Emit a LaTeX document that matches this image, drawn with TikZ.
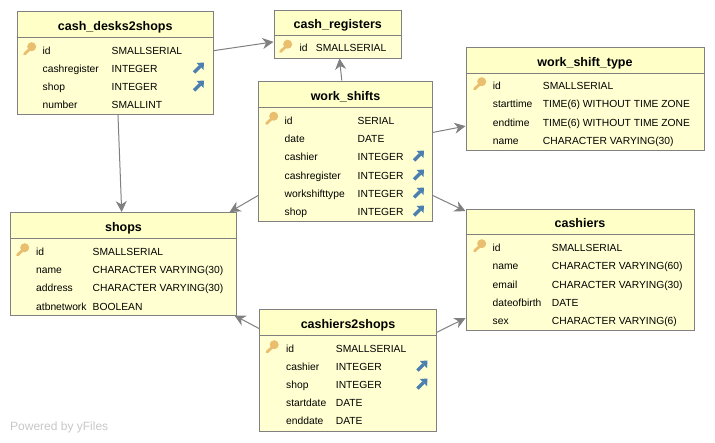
\documentclass[tikz,border=0pt]{standalone}
\usepackage{fontspec}
\setmainfont{Liberation Sans}
\usetikzlibrary{arrows.meta}

\definecolor{tablefill}{HTML}{FFFFD2}
\definecolor{headfill}{HTML}{FFFFC8}
\definecolor{edgegray}{HTML}{808080}
\definecolor{keycolor}{HTML}{E9BE6E}
\definecolor{fkcolor}{HTML}{4A7FB0}

\tikzset{
  dbtable/.style={draw=edgegray,fill=tablefill,line width=1pt,inner sep=0pt},
  dbhead/.style={draw=edgegray,fill=headfill,line width=1pt,inner sep=0pt,anchor=north,
    text height=14pt,text depth=2pt,font=\bfseries\fontsize{12.5}{14}\selectfont},
  fieldname/.style={anchor=base west,inner sep=0pt,yshift=-3.6pt,font=\fontsize{10.3}{12}\selectfont},
  reltn/.style={draw=edgegray,line width=1pt,-{Stealth[length=11pt,width=11pt,inset=3.5pt]}},
  pkkey/.pic={
    \draw[keycolor,line width=2.8pt,line cap=round] (-5.5,5) -- (1,-1);
    \fill[keycolor] (1.7,-2.3) circle (4.5pt);
  },
  fkmark/.pic={
    \draw[fkcolor,line width=3.4pt] (-4.5,4.5) -- (1.5,-1.5);
    \fill[fkcolor] (-2,-5) -- (5.5,-5.5) -- (5,2) -- cycle;
  }
}

% table frame with its title bar: name, centre x, centre y, width, height, bar height, title
\newcommand{\tablenode}[7]{
  \node[dbtable,minimum width=#4pt,minimum height=#5pt] (#1) at (#2,#3) {};
  \node[dbhead,minimum width=#4pt,minimum height=#6pt] (#1_title) at (#1.north) {#7};
}
% field rows: table, x of names, x of types, list of y/name/type
\newcommand{\tablefields}[4]{
  \foreach \fy/\fname/\ftype in {#4} {
    \node[fieldname] (#1_\fname) at (#2,\fy) {\fname};
    \node[fieldname] (#1_\fname_type) at (#3,\fy) {\ftype};
  }
}

\begin{document}
\begin{tikzpicture}[x=1pt,y=-1pt]
  \useasboundingbox (0,0) rectangle (715,442);

  \tablenode{cash_desks2shops}{115.25}{62.75}{195.5}{102.5}{26}{cash\_desks2shops}
  \tablefields{cash_desks2shops}{42.5}{111.5}{50.5/id/SMALLSERIAL,68.5/cashregister/INTEGER,
    86.5/shop/INTEGER,104.5/number/SMALLINT}
  \pic at (30,49) {pkkey};
  \foreach \fy in {68,86} \pic at (198.5,\fy) {fkmark};

  \tablenode{cash_registers}{337.75}{34}{127.5}{48}{25}{cash\_registers}
  \tablefields{cash_registers}{299.5}{315.7}{48/id/SMALLSERIAL}
  \pic at (286,46.5) {pkkey};

  \tablenode{work_shifts}{345.5}{151}{174}{140}{26.5}{work\_shifts}
  \tablefields{work_shifts}{284.5}{357.5}{120.5/id/SERIAL,138.5/date/DATE,156.5/cashier/INTEGER,
    175.5/cashregister/INTEGER,193.5/workshifttype/INTEGER,211.5/shop/INTEGER}
  \pic at (272,118.5) {pkkey};
  \foreach \fy in {156,175,193,211} \pic at (418.5,\fy) {fkmark};

  \tablenode{work_shift_type}{585}{98.5}{238}{103}{26}{work\_shift\_type}
  \tablefields{work_shift_type}{492.7}{542.7}{85.5/id/SMALLSERIAL,104/starttime/TIME(6) WITHOUT TIME ZONE,
    122.5/endtime/TIME(6) WITHOUT TIME ZONE,140.5/name/CHARACTER VARYING(30)}
  \pic at (480,84) {pkkey};

  \tablenode{shops}{123.5}{263.75}{226}{102.5}{25.5}{shops}
  \tablefields{shops}{36}{92.5}{252/id/SMALLSERIAL,270/name/CHARACTER VARYING(30),
    288/address/CHARACTER VARYING(30),306.5/atbnetwork/BOOLEAN}
  \pic at (23,250) {pkkey};

  \tablenode{cashiers}{580}{269.5}{228}{121}{25}{cashiers}
  \tablefields{cashiers}{492.5}{551.7}{247.5/id/SMALLSERIAL,266/name/CHARACTER VARYING(60),
    284.5/email/CHARACTER VARYING(30),302.5/dateofbirth/DATE,321/sex/CHARACTER VARYING(6)}
  \pic at (480,246) {pkkey};

  \tablenode{cashiers2shops}{348}{370}{177}{122}{26}{cashiers2shops}
  \tablefields{cashiers2shops}{286}{335.7}{348.5/id/SMALLSERIAL,366.5/cashier/INTEGER,385/shop/INTEGER,
    403/startdate/DATE,421/enddate/DATE}
  \pic at (272.5,347) {pkkey};
  \foreach \fy in {366,384} \pic at (422,\fy) {fkmark};

  \draw[reltn] (cash_desks2shops.7.4) -- (cash_registers.187.4);
  \draw[reltn] (cash_desks2shops.-87.5) -- (shops.92.8);
  \draw[reltn] (work_shifts.93.4) -- (cash_registers.-86.4);
  \draw[reltn] (work_shifts.12) -- (work_shift_type.193.3);
  \draw[reltn] (work_shifts.207.7) -- (shops.26.3);
  \draw[reltn] (work_shifts.-27.2) -- (cashiers.153.1);
  \draw[reltn] (cashiers2shops.155.1) -- (shops.-25);
  \draw[reltn] (cashiers2shops.23.1) -- (cashiers.203.9);

  \node[anchor=base west,inner sep=0pt,text=black!22,font=\fontsize{12}{14}\selectfont] (poweredby) at (10,430) {Powered by yFiles};
\end{tikzpicture}
\end{document}
